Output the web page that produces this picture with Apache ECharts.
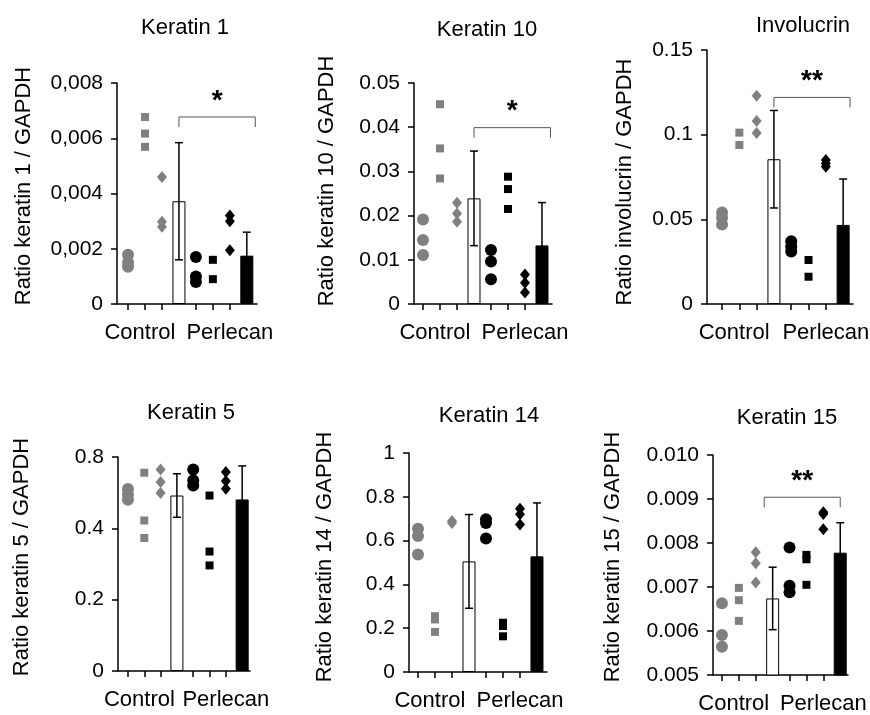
<!DOCTYPE html>
<html><head><meta charset="utf-8">
<script src="https://cdn.jsdelivr.net/npm/echarts@6/dist/echarts.min.js"></script>
<style>html,body{margin:0;padding:0;background:#fff}#c{width:870px;height:715px}</style>
</head><body><div id="c"></div>
<script>
// ---------- DATA ----------
const titles = ['Keratin 1', 'Keratin 10', 'Involucrin', 'Keratin 5', 'Keratin 14', 'Keratin 15'];
const yNames = ['Ratio keratin 1 / GAPDH', 'Ratio keratin 10 / GAPDH', 'Ratio involucrin / GAPDH',
                'Ratio keratin 5 / GAPDH', 'Ratio keratin 14 / GAPDH', 'Ratio keratin 15 / GAPDH'];
const groupLabels = ['Control', 'Perlecan'];
const groupLabelSlots = [1.7, 7.0];
// slots: 1 circles, 2 squares, 3 diamonds, 4 mean bar (Control); 5,6,7 replicates, 8 mean bar (Perlecan)
const replicateSlots = [1, 2, 3, 5, 6, 7];
const ctrlCircles  = [[0.00178, 0.0015, 0.00135], [0.0191, 0.0145, 0.0111], [0.054, 0.051, 0.047],
                      [0.51, 0.495, 0.48], [0.654, 0.621, 0.536], [0.00663, 0.00591, 0.00564]];
const ctrlSquares  = [[0.00677, 0.00617, 0.00569], [0.0452, 0.0352, 0.0284], [0.1012, 0.0939],
                      [0.556, 0.422, 0.373], [0.255, 0.24, 0.183], [0.00698, 0.0067, 0.00623]];
const ctrlDiamonds = [[0.0046, 0.00298, 0.0028], [0.0229, 0.0205, 0.0186], [0.123, 0.108, 0.101],
                      [0.565, 0.53, 0.499], [0.69, 0.68], [0.00779, 0.00754, 0.0071]];
const perlCircles  = [[0.0017, 0.001, 0.0008], [0.0122, 0.0096, 0.0056], [0.037, 0.034, 0.031],
                      [0.565, 0.535, 0.52], [0.697, 0.68, 0.61], [0.0079, 0.00703, 0.00688]];
const perlSquares  = [[0.0016, 0.0009], [0.0288, 0.026, 0.0215], [0.026, 0.0161],
                      [0.492, 0.335, 0.296], [0.225, 0.21, 0.163], [0.00773, 0.00763, 0.00705]];
const perlDiamonds = [[0.0032, 0.003, 0.00195], [0.0067, 0.0048, 0.0026], [0.085, 0.083, 0.081],
                      [0.558, 0.533, 0.511], [0.746, 0.72, 0.673], [0.0087, 0.00866, 0.00831]];
const ctrlMean = [0.00372, 0.0239, 0.0855, 0.492, 0.505, 0.00674];
const ctrlSD   = [0.00212, 0.0107, 0.0288, 0.061, 0.214, 0.00071];
const perlMean = [0.00175, 0.01325, 0.0467, 0.481, 0.528, 0.00778];
const perlSD   = [0.00085, 0.0097, 0.0271, 0.094, 0.244, 0.00068];
const yTickValues = [[0, 0.002, 0.004, 0.006, 0.008], [0, 0.01, 0.02, 0.03, 0.04, 0.05], [0, 0.05, 0.1, 0.15],
                     [0, 0.2, 0.4, 0.6], [0, 0.2, 0.4, 0.6, 0.8, 1], [0.005, 0.006, 0.007, 0.008, 0.009, 0.010]];
const yTickLabels = [['0', '0,002', '0,004', '0,006', '0,008'], ['0', '0.01', '0.02', '0.03', '0.04', '0.05'],
                     ['0', '0.05', '0.1', '0.15'], ['0', '0.2', '0.4', '0.8'],
                     ['0', '0.2', '0.4', '0.6', '0.8', '1'], ['0.005', '0.006', '0.007', '0.008', '0.009', '0.010']];
const sigLabels = ['*', '*', '**', '', '', '**'];
const sigLevel  = [0.00677, 0.0399, 0.122, null, null, 0.00904];
const sigFrom   = [4, 4, 4, null, null, 3.5];
const sigTo     = [8.5, 8.5, 8.4, null, null, 8];
const barSlots = [4, 8];

// ---------- LAYOUT / STYLE ----------
const layout = [
  {left: 117, top: 83,  width: 140, height: 221, xr: [0.35, 8.6],  tx: 180, ty: 12, nx: 82, pad: [0, 0, 0, 15]},
  {left: 414, top: 83,  width: 138, height: 221, xr: [0.47, 8.59], tx: 482, ty: 14, nx: 76, pad: [0, 0, 0, 25]},
  {left: 707, top: 50,  width: 146, height: 254, xr: [0.13, 8.57], tx: 798, ty: 10, nx: 71, pad: [0, 10, 0, 0]},
  {left: 118, top: 457, width: 132, height: 214, xr: [0.39, 8.48], tx: 186, ty: 397, nx: 85, pad: [0, 0, 0, 14]},
  {left: 409, top: 453, width: 138, height: 219, xr: [0.47, 8.59], tx: 484, ty: 400, nx: 73, pad: [0, 0, 0, 11]},
  {left: 713, top: 455, width: 135, height: 220, xr: [0.47, 8.46], tx: 782, ty: 402, nx: 89, pad: [0, 0, 0, 16]}
];
const FONT = 'Liberation Sans, Arial, sans-serif';
const FS = 21;
const FS_BIG = 22;
const GRAY = '#808080';

const option = {
  animation: false,
  backgroundColor: '#fff',
  title: [], grid: [], xAxis: [], yAxis: [], series: []
};

function labelFor(list, labels, v) {
  for (let k = 0; k < list.length; k++) if (Math.abs(list[k] - v) < 1e-9) return labels[k];
  return '';
}

titles.forEach((t, i) => {
  const L = layout[i];
  option.title.push({text: t, left: L.tx, top: L.ty, textAlign: 'center',
    textStyle: {fontFamily: FONT, fontSize: FS_BIG, fontWeight: 'normal', color: '#000'}});
  option.grid.push({left: L.left, top: L.top, width: L.width, height: L.height,
    containLabel: false, outerBoundsMode: 'none'});
  option.xAxis.push({
    type: 'value', gridIndex: i, min: L.xr[0], max: L.xr[1],
    splitLine: {show: false},
    axisLine: {onZero: false, lineStyle: {color: '#000', width: 1.5}},
    axisTick: {customValues: replicateSlots, length: 6, lineStyle: {color: '#000', width: 1.5}},
    axisLabel: {customValues: groupLabelSlots, margin: 18, fontFamily: FONT, fontSize: FS_BIG, color: '#000',
      formatter: v => labelFor(groupLabelSlots, groupLabels, v)}
  });
  const yt = yTickValues[i];
  option.yAxis.push({
    type: 'value', gridIndex: i, min: yt[0], max: yt[yt.length - 1],
    name: yNames[i], nameLocation: 'middle', nameGap: L.nx,
    nameTextStyle: {fontFamily: FONT, fontSize: FS_BIG, color: '#000', padding: L.pad},
    splitLine: {show: false},
    axisLine: {show: true, onZero: false, lineStyle: {color: '#000', width: 1.5}},
    axisTick: {show: true, customValues: yt, length: 6, lineStyle: {color: '#000', width: 1.5}},
    axisLabel: {customValues: yt, margin: 14, fontFamily: FONT, fontSize: FS, color: '#000',
      formatter: v => labelFor(yt, yTickLabels[i], v)}
  });

  // mean bars
  option.series.push({
    type: 'bar', xAxisIndex: i, yAxisIndex: i, barWidth: 13, z: 2,
    data: [
      {value: [barSlots[0], ctrlMean[i]], itemStyle: {color: '#fff', borderColor: '#000', borderWidth: 1}},
      {value: [barSlots[1], perlMean[i]], itemStyle: {color: '#000', borderColor: '#000', borderWidth: 1}}
    ]
  });
  // error bars
  const errData = [[barSlots[0], ctrlMean[i], ctrlSD[i]], [barSlots[1], perlMean[i], perlSD[i]]];
  option.series.push({
    type: 'custom', xAxisIndex: i, yAxisIndex: i, z: 3, data: errData,
    renderItem: (params, api) => {
      const x = api.value(0), m = api.value(1), s = api.value(2);
      const top = api.coord([x, m + s]);
      const bot = api.coord([x, m - s]);
      const cap = 4;
      const st = {stroke: '#000', lineWidth: 1.5};
      return {type: 'group', children: [
        {type: 'line', shape: {x1: top[0], y1: top[1], x2: bot[0], y2: bot[1]}, style: st},
        {type: 'line', shape: {x1: top[0] - cap, y1: top[1], x2: top[0] + cap, y2: top[1]}, style: st},
        {type: 'line', shape: {x1: bot[0] - cap, y1: bot[1], x2: bot[0] + cap, y2: bot[1]}, style: st}
      ]};
    }
  });
  // replicates
  const groups = [
    [ctrlCircles[i], 'circle', 12, GRAY], [ctrlSquares[i], 'rect', 8, GRAY], [ctrlDiamonds[i], 'diamond', [10, 12], GRAY],
    [perlCircles[i], 'circle', 12, '#000'], [perlSquares[i], 'rect', 8, '#000'], [perlDiamonds[i], 'diamond', [10, 12], '#000']
  ];
  groups.forEach((g, k) => {
    option.series.push({
      type: 'scatter', xAxisIndex: i, yAxisIndex: i, z: 4,
      symbol: g[1], symbolSize: g[2], itemStyle: {color: g[3], opacity: 1},
      data: g[0].map(v => [replicateSlots[k], v])
    });
  });
  // significance bracket
  if (sigLevel[i] !== null) {
    option.series.push({
      type: 'custom', xAxisIndex: i, yAxisIndex: i, z: 5,
      data: [[sigFrom[i], sigTo[i], sigLevel[i]]],
      renderItem: (params, api) => {
        const a = api.coord([api.value(0), api.value(2)]);
        const b = api.coord([api.value(1), api.value(2)]);
        const tick = 10;
        return {type: 'group', children: [
          {type: 'polyline', shape: {points: [[a[0], a[1] + tick], [a[0], a[1]], [b[0], b[1]], [b[0], b[1] + tick]]},
           style: {stroke: '#555', lineWidth: 1, fill: null}},
          {type: 'text', x: (a[0] + b[0]) / 2, y: a[1] - 2,
           style: {text: sigLabels[i], font: 'bold 28px ' + FONT, fill: '#000', align: 'center', verticalAlign: 'bottom'}}
        ]};
      }
    });
  }
});

const chart = echarts.init(document.getElementById('c'), null, {renderer: 'canvas'});
chart.setOption(option);
</script>
</body></html>
